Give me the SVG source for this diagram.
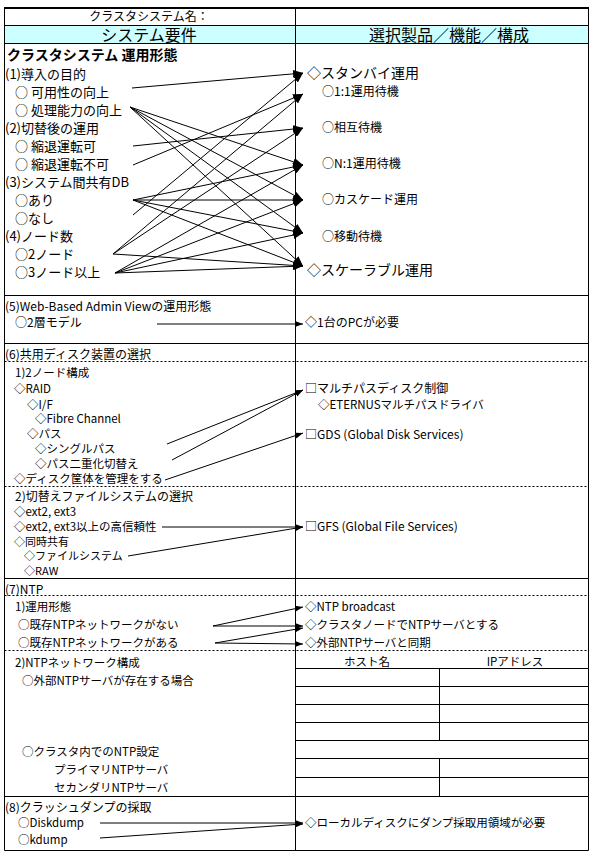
<svg xmlns="http://www.w3.org/2000/svg" width="594" height="855" viewBox="0 0 594 855">
<defs>
<marker id="ah" markerUnits="userSpaceOnUse" markerWidth="11" markerHeight="8" refX="10" refY="4" orient="auto"><path d="M0,0 L10,4 L0,8 z" fill="#000"/></marker>
<marker id="as" markerUnits="userSpaceOnUse" markerWidth="9" markerHeight="7" refX="8" refY="3" orient="auto"><path d="M0,0 L8,3 L0,6 z" fill="#000"/></marker>
<style>
text{font-family:"Noto Sans CJK JP","Noto Sans",sans-serif;fill:#000}
.t13{font-size:13px}
.t12{font-size:12px}
.t11{font-size:11.5px}
.t10{font-size:11px}
.t14{font-size:14px}
.h16{font-size:16px}
.b14{font-size:14px;font-weight:bold}
.grid{stroke:#000;stroke-width:1;fill:none}
.dot{stroke:#000;stroke-width:1;stroke-dasharray:2 2;fill:none}
.c{stroke:#000;stroke-width:1;fill:none;marker-end:url(#ah)}
.cs{stroke:#000;stroke-width:1;fill:none;marker-end:url(#as)}
</style>
</defs>
<rect width="594" height="855" fill="#fff"/>
<rect x="4.5" y="25.5" width="584" height="18" fill="#ccffff"/>
<g id="grid">
<line class="grid" x1="4.5" y1="8" x2="4.5" y2="850.5"/>
<line class="grid" x1="588.5" y1="8" x2="588.5" y2="850.5"/>
<line class="grid" x1="295.5" y1="8" x2="295.5" y2="850.5"/>
<line x1="4" y1="8" x2="589" y2="8" stroke="#000" stroke-width="2"/>
<line class="grid" x1="4.5" y1="25.5" x2="588.5" y2="25.5"/>
<line class="grid" x1="4.5" y1="43.5" x2="588.5" y2="43.5"/>
<line class="grid" x1="4.5" y1="295.5" x2="588.5" y2="295.5"/>
<line class="grid" x1="4.5" y1="343.5" x2="588.5" y2="343.5"/>
<line class="dot" x1="4.5" y1="361.5" x2="588.5" y2="361.5"/>
<line class="dot" x1="4.5" y1="486.5" x2="588.5" y2="486.5"/>
<line class="grid" x1="4.5" y1="578.5" x2="588.5" y2="578.5"/>
<line class="dot" x1="4.5" y1="595.5" x2="588.5" y2="595.5"/>
<line class="dot" x1="4.5" y1="650.5" x2="588.5" y2="650.5"/>
<line class="grid" x1="295.5" y1="668.5" x2="588.5" y2="668.5"/>
<line class="grid" x1="295.5" y1="686.5" x2="588.5" y2="686.5"/>
<line class="grid" x1="295.5" y1="704.5" x2="588.5" y2="704.5"/>
<line class="grid" x1="295.5" y1="722.5" x2="588.5" y2="722.5"/>
<line class="grid" x1="295.5" y1="740.5" x2="588.5" y2="740.5"/>
<line class="grid" x1="295.5" y1="758.5" x2="588.5" y2="758.5"/>
<line class="grid" x1="295.5" y1="777.5" x2="588.5" y2="777.5"/>
<line class="grid" x1="439.5" y1="668.5" x2="439.5" y2="740.5"/>
<line class="grid" x1="439.5" y1="758.5" x2="439.5" y2="796.5"/>
<line class="grid" x1="4.5" y1="796.5" x2="588.5" y2="796.5"/>
<line class="grid" x1="4.5" y1="850.5" x2="588.5" y2="850.5"/>
</g>
<g id="header">
<text class="t12" x="149" y="21" text-anchor="middle">クラスタシステム名：</text>
<text class="h16" x="149" y="41" text-anchor="middle">システム要件</text>
<text class="h16" x="449" y="41" text-anchor="middle">選択製品／機能／構成</text>
</g>
<g id="req-cluster">
<text class="b14" x="7" y="60">クラスタシステム 運用形態</text>
<text class="t13" x="5" y="79">(1)導入の目的</text>
<text class="t13" x="15" y="97">○ 可用性の向上</text>
<text class="t13" x="15" y="115">○ 処理能力の向上</text>
<text class="t13" x="5" y="133">(2)切替後の運用</text>
<text class="t13" x="15" y="151">○ 縮退運転可</text>
<text class="t13" x="15" y="169">○ 縮退運転不可</text>
<text class="t13" x="5" y="187">(3)システム間共有DB</text>
<text class="t13" x="15" y="205">○あり</text>
<text class="t13" x="15" y="223">○なし</text>
<text class="t13" x="5" y="241">(4)ノード数</text>
<text class="t13" x="15" y="259">○2ノード</text>
<text class="t13" x="15" y="277">○3ノード以上</text>
</g>
<g id="sel-standby"><text class="t14" x="307" y="78">◇スタンバイ運用</text></g>
<g id="sel-11"><text class="t12" x="322" y="96">○1:1運用待機</text></g>
<g id="sel-mutual"><text class="t12" x="322" y="132">○相互待機</text></g>
<g id="sel-n1"><text class="t12" x="322" y="168">○N:1運用待機</text></g>
<g id="sel-cascade"><text class="t12" x="322" y="204">○カスケード運用</text></g>
<g id="sel-move"><text class="t12" x="322" y="241">○移動待機</text></g>
<g id="sel-scalable"><text class="t14" x="307" y="275">◇スケーラブル運用</text></g>
<g id="req-web">
<text class="t12" x="5" y="311">(5)Web-Based Admin Viewの運用形態</text>
<text class="t12" x="15" y="327">○2層モデル</text>
</g>
<g id="sel-pc"><text class="t12" x="305" y="327">◇1台のPCが必要</text></g>
<g id="req-disk">
<text class="t12" x="5" y="359">(6)共用ディスク装置の選択</text>
<text class="t11" x="15" y="377">1)2ノード構成</text>
<text class="t11" x="14" y="393">◇RAID</text>
<text class="t11" x="27" y="409">◇I/F</text>
<text class="t11" x="35" y="423">◇Fibre Channel</text>
<text class="t11" x="27" y="438">◇パス</text>
<text class="t11" x="35" y="453">◇シングルパス</text>
<text class="t11" x="35" y="468">◇パス二重化切替え</text>
<text class="t11" x="14" y="483">◇ディスク筐体を管理をする</text>
</g>
<g id="sel-multipath">
<text class="t12" x="305" y="393">□マルチパスディスク制御</text>
<text class="t11" x="318" y="409">◇ETERNUSマルチパスドライバ</text>
</g>
<g id="sel-gds"><text class="t12" x="305" y="439">□GDS (Global Disk Services)</text></g>
<g id="req-fs">
<text class="t12" x="15" y="501">2)切替えファイルシステムの選択</text>
<text class="t11" x="14" y="516">◇ext2, ext3</text>
<text class="t11" x="14" y="531">◇ext2, ext3以上の高信頼性</text>
<text class="t10" x="14" y="545.5">◇同時共有</text>
<text class="t10" x="24" y="560">◇ファイルシステム</text>
<text class="t10" x="24" y="575">◇RAW</text>
</g>
<g id="sel-gfs"><text class="t12" x="305" y="531">□GFS (Global File Services)</text></g>
<g id="req-ntp">
<text class="t12" x="5" y="594">(7)NTP</text>
<text class="t11" x="15" y="611">1)運用形態</text>
<text class="t11" x="18" y="629">○既存NTPネットワークがない</text>
<text class="t11" x="18" y="647">○既存NTPネットワークがある</text>
</g>
<g id="sel-broadcast"><text class="t11" x="305" y="611">◇NTP broadcast</text></g>
<g id="sel-ntpserver"><text class="t11" x="305" y="629">◇クラスタノードでNTPサーバとする</text></g>
<g id="sel-extsync"><text class="t11" x="305" y="647">◇外部NTPサーバと同期</text></g>
<g id="req-ntpnet">
<text class="t11" x="15" y="667">2)NTPネットワーク構成</text>
<text class="t11" x="22" y="685">○外部NTPサーバが存在する場合</text>
<text class="t11" x="22" y="756">○クラスタ内でのNTP設定</text>
<text class="t11" x="54" y="774">プライマリNTPサーバ</text>
<text class="t11" x="54" y="792">セカンダリNTPサーバ</text>
</g>
<g id="ntp-table">
<text class="t11" x="367" y="666" text-anchor="middle">ホスト名</text>
<text class="t11" x="515" y="666" text-anchor="middle">IPアドレス</text>
</g>
<g id="req-dump">
<text class="t12" x="5" y="812">(8)クラッシュダンプの採取</text>
<text class="t11" x="18" y="827">○Diskdump</text>
<text class="t11" x="18" y="844">○kdump</text>
</g>
<g id="sel-dump"><text class="t11" x="305" y="827">◇ローカルディスクにダンプ採取用領域が必要</text></g>
<g id="connectors">
<path class="c" d="M132,88 L303,73"/>
<path class="c" d="M130,107 L303,165"/>
<path class="c" d="M130,107 L303,200"/>
<path class="c" d="M130,107 L303,233"/>
<path class="c" d="M130,107 L303,266"/>
<path class="c" d="M133,146 L303,128"/>
<path class="c" d="M133,165 L303,94"/>
<path class="c" d="M133,200 L303,165"/>
<path class="c" d="M133,200 L303,200"/>
<path class="c" d="M133,200 L303,233"/>
<path class="c" d="M133,200 L303,266"/>
<path class="c" d="M133,215 L303,73"/>
<path class="c" d="M113,254 L303,94"/>
<path class="c" d="M113,254 L303,128"/>
<path class="c" d="M113,254 L303,266"/>
<path class="c" d="M115,273 L303,165"/>
<path class="c" d="M115,273 L303,200"/>
<path class="c" d="M115,273 L303,233"/>
<path class="c" d="M115,273 L303,266"/>
<path class="cs" d="M157,324 L303,324"/>
<path class="cs" d="M167,444 L303,390"/>
<path class="cs" d="M172,460 L303,390"/>
<path class="cs" d="M165,480 L303,433"/>
<path class="cs" d="M162,527 L303,527"/>
<path class="cs" d="M128,556 L303,527"/>
<path class="cs" d="M213,626 L303,607"/>
<path class="cs" d="M213,626 L303,626"/>
<path class="cs" d="M215,643 L303,628"/>
<path class="cs" d="M215,643 L303,644"/>
<path class="cs" d="M100,823 L303,823"/>
<path class="cs" d="M100,838 L303,824"/>
</g>
</svg>
